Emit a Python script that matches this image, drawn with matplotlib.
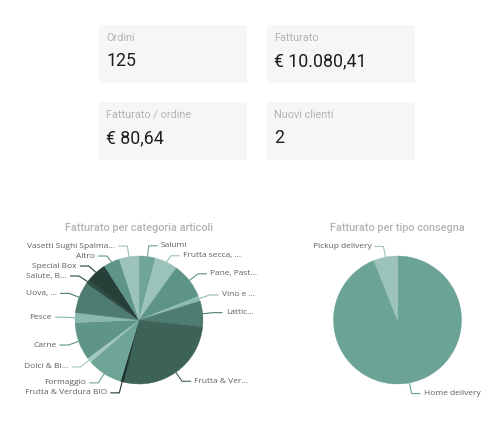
import numpy as np
import matplotlib.pyplot as plt
from matplotlib.patches import Rectangle

plt.rcParams['font.family'] = ['Roboto', 'DejaVu Sans']

# KPI cards
kpi_titles = ['Ordini', 'Fatturato', 'Fatturato / ordine', 'Nuovi clienti']
kpi_values = ['125', '€ 10.080,41', '€ 80,64', '2']

# revenue by article category (EUR)
cat_labels = ['Salumi', 'Frutta secca, ...', 'Pane, Past...', 'Vino e ...', 'Lattic...',
              'Frutta & Ver...', 'Frutta & Verdura BIO', 'Formaggio', 'Dolci & Bi...',
              'Carne', 'Pesce', 'Uova, ...', 'Salute, B...', 'Special Box', 'Altro',
              'Vasetti Sughi Spalma...']
cat_values = [420, 577, 913, 126, 652, 2736, 84, 904, 120, 960, 252, 795, 98, 526, 414, 501]
cat_colors = ['#6ea596', '#9cc3b9', '#5d9487', '#8fbcb0', '#4e7c71', '#3d6359', '#1f3530',
              '#6ea596', '#a3c9bf', '#5e9588', '#8ab8ad', '#4e7c71', '#2d4a43', '#263f39',
              '#5e9588', '#9cc3b9']

# revenue by delivery type
del_labels = ['Home delivery', 'Pickup delivery']
del_values = [9475, 605]
del_colors = ['#6ba396', '#9cc3b9']

W, H = 500, 421
fig = plt.figure(figsize=(W / 100, H / 100), dpi=100)
fig.patch.set_facecolor('white')

# overlay axes in pixel coordinates
bg = fig.add_axes([0, 0, 1, 1])
bg.set_xlim(0, W)
bg.set_ylim(H, 0)
bg.axis('off')

card_x = [99, 267, 99, 267]
card_y = [25, 25, 102, 102]
for i in range(4):
    bg.add_patch(Rectangle((card_x[i], card_y[i]), 148, 58, color='#f6f6f6', lw=0))
    bg.text(card_x[i] + 7, card_y[i] + 13, kpi_titles[i], fontsize=7.8,
            color='#b3b3b3', va='center', ha='left')
    bg.text(card_x[i] + 7, card_y[i] + 36, kpi_values[i], fontsize=12.8,
            color='#201f1e', va='center', ha='left')

bg.text(139, 228, 'Fatturato per categoria articoli', fontsize=7.8, color='#b3b3b3',
        ha='center', va='center', fontweight='medium')
bg.text(397.5, 228, 'Fatturato per tipo consegna', fontsize=7.8, color='#b3b3b3',
        ha='center', va='center', fontweight='medium')


def pie_with_labels(cx, cy, values, labels, colors):
    R = 64
    ax = fig.add_axes([(cx - 100) / W, (H - cy - 100) / H, 200 / W, 200 / H])
    wedges, _ = ax.pie(values, colors=colors, startangle=90, counterclock=False,
                       radius=1, wedgeprops=dict(linewidth=0.3, edgecolor='none'))
    lim = 100 / R
    ax.set_xlim(-lim, lim)
    ax.set_ylim(-lim, lim)
    ax.axis('off')

    items = []
    for w, lab, col in zip(wedges, labels, colors):
        w.set_edgecolor(col)
        ang = np.deg2rad((w.theta1 + w.theta2) / 2)
        x0, y0 = np.cos(ang), np.sin(ang)
        items.append([x0, y0, 1.17 * x0, 1.17 * y0, lab, col])

    # push labels apart on each side (top to bottom)
    gap = 10 / R
    for side in (1, -1):
        group = [it for it in items if (it[0] >= 0) == (side > 0)]
        group.sort(key=lambda it: -it[3])
        for k in range(1, len(group)):
            group[k][3] = min(group[k][3], group[k - 1][3] - gap)

    for x0, y0, x1, y1, lab, col in items:
        side = 1 if x0 >= 0 else -1
        x2 = x1 + side * 0.14
        ax.plot([x0, x1, x2], [y0, y1, y1], color=col, lw=0.8, clip_on=False,
                solid_capstyle='butt')
        ax.text(x2 + side * 0.05, y1, lab, fontsize=6.0, color='#605e5c',
                family=['Open Sans', 'DejaVu Sans'],
                ha='left' if side > 0 else 'right', va='center', clip_on=False)


pie_with_labels(139, 320, cat_values, cat_labels, cat_colors)
pie_with_labels(397.5, 320, del_values, del_labels, del_colors)

fig.savefig('out.png', dpi=100)
